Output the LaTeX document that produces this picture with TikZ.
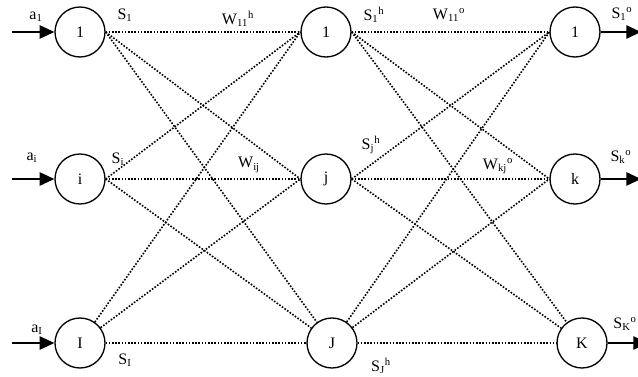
\documentclass[tikz,border=0pt]{standalone}
\usepackage{fontspec}
\setmainfont{Liberation Serif}
\usetikzlibrary{arrows.meta, positioning}
\tikzset{
  neuron/.style={circle, draw=black, line width=1pt, minimum size=37.5pt, inner sep=0pt,
    font=\fontsize{12}{12}\selectfont},
  link/.style={line width=1.2pt, dash pattern=on 1.2pt off 1.2pt},
  feed/.style={line width=1.1pt, -{Triangle[length=11pt,width=10pt]}},
  lbl/.style={font=\fontsize{12}{12}\selectfont, inner sep=0pt}
}

\begin{document}
\begin{tikzpicture}[x=0.75pt, y=-0.75pt]
  \useasboundingbox (0,0) rectangle (638,377);

  % Input layer
  \node[neuron] (in1) at (80,32) {1};
  \node[neuron] (in2) at (80,179) {i};
  \node[neuron] (in3) at (80,343) {I};

  % Hidden layer
  \node[neuron] (hid1) at (326,32) {1};
  \node[neuron] (hid2) at (326,179) {j};
  \node[neuron] (hid3) at (332,343) {J};

  % Output layer
  \node[neuron] (out1) at (575,32) {1};
  \node[neuron] (out2) at (575,179) {k};
  \node[neuron] (out3) at (582,343) {K};

  % Weights: each node to every node of the next layer
  % (top rows meet at the side points, bottom row at the rim)
  \foreach \p/\pa in {1/.east, 2/.east, 3/} {
    \foreach \q/\qa in {1/.west, 2/.west, 3/} {
      \draw[link] (in\p\pa) -- (hid\q\qa);
      \draw[link] (hid\p\pa) -- (out\q\qa);
    }
  }

  % Inputs and outputs
  \foreach \r/\y in {1/32, 2/179, 3/343} {
    \coordinate (src\r) at (12,\y);
    \draw[feed] (src\r) -- (in\r);
  }
  \coordinate (dst1) at (641,32);
  \coordinate (dst2) at (641,179);
  \coordinate (dst3) at (648,343);
  \foreach \r in {1,2,3} {
    \draw[feed] (out\r) -- (dst\r);
  }

  % Input labels
  \node[lbl] (a1) at (36,17) {a\textsubscript{1}};
  \node[lbl] (a2) at (32,158) {a\textsubscript{i}};
  \node[lbl] (a3) at (37,330) {a\textsubscript{I}};

  % Signals and weights
  \node[lbl] (s1) at (125,15) {S\textsubscript{1}};
  \node[lbl] (s2) at (118,159) {S\textsubscript{i}};
  \node[lbl] (s3) at (125,360) {S\textsubscript{I}};
  \node[lbl] (w1h) at (238,19) {W\textsubscript{11}\textsuperscript{h}};
  \node[lbl] (wjh) at (249,165) {W\textsubscript{ij}};
  \node[lbl] (sh1) at (374,15) {S\textsubscript{1}\textsuperscript{h}};
  \node[lbl] (shj) at (371,145) {S\textsubscript{j}\textsuperscript{h}};
  \node[lbl] (shJ) at (381,366) {S\textsubscript{J}\textsuperscript{h}};
  \node[lbl] (w1o) at (449,15) {W\textsubscript{11}\textsuperscript{o}};
  \node[lbl] (wko) at (498,166) {W\textsubscript{kj}\textsuperscript{o}};
  \node[lbl] (so1) at (622,14) {S\textsubscript{1}\textsuperscript{o}};
  \node[lbl] (sok) at (621,157) {S\textsubscript{k}\textsuperscript{o}};
  \node[lbl, anchor=east] (soK) at (637,324) {S\textsubscript{K}\textsuperscript{o}};
\end{tikzpicture}
\end{document}
